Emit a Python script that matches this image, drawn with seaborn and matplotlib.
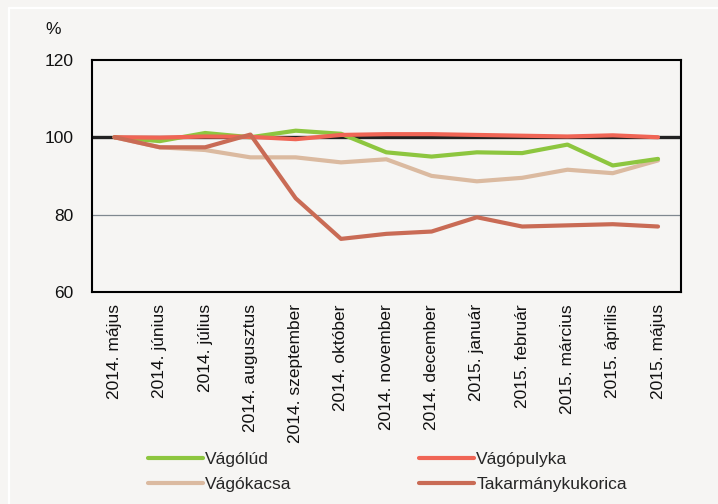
import matplotlib
matplotlib.use("Agg")
import matplotlib.pyplot as plt
import seaborn as sns
import pandas as pd
from matplotlib.lines import Line2D

months = ["2014. május", "2014. június", "2014. július", "2014. augusztus",
          "2014. szeptember", "2014. október", "2014. november", "2014. december",
          "2015. január", "2015. február", "2015. március", "2015. április", "2015. május"]
vagolud = [100, 99.0, 101.1, 100.0, 101.7, 100.9, 96.1, 95.0, 96.1, 95.9, 98.1, 92.7, 94.4]
vagopulyka = [100, 99.9, 100.2, 100.1, 99.5, 100.6, 100.8, 100.8, 100.6, 100.4, 100.2, 100.5, 100.0]
vagokacsa = [100, 97.4, 96.7, 94.8, 94.8, 93.5, 94.3, 90.0, 88.6, 89.5, 91.6, 90.7, 94.0]
kukorica = [100, 97.4, 97.4, 100.7, 84.2, 73.7, 75.0, 75.6, 79.3, 76.9, 77.2, 77.5, 76.9]

series = {"Vágólúd": vagolud, "Vágópulyka": vagopulyka,
          "Vágókacsa": vagokacsa, "Takarmánykukorica": kukorica}
rows = []
for name, vals in series.items():
    for m, v in zip(months, vals):
        rows.append({"month": m, "value": v, "series": name})
df = pd.DataFrame(rows)

palette = {"Vágólúd": "#8dc63f", "Vágópulyka": "#f06555",
           "Vágókacsa": "#dbbaa0", "Takarmánykukorica": "#c96b55"}

sns.set_style("white")
FONT = ["Liberation Sans", "DejaVu Sans"]
plt.rcParams["font.family"] = FONT
BG = "#f6f5f3"
FS = 12.5

fig = plt.figure(figsize=(7.18, 5.04), dpi=100, facecolor=BG)
ax = fig.add_axes([0.128, 0.421, 0.82, 0.46])
ax.set_facecolor(BG)

ax.axhline(80, color="#7f8890", lw=0.9, zorder=1)
ax.axhline(100, color="#222222", lw=2.4, zorder=1)

draw_order = ["Vágókacsa", "Vágólúd", "Vágópulyka", "Takarmánykukorica"]
sns.lineplot(data=df, x="month", y="value", hue="series", palette=palette,
             hue_order=draw_order, sort=False, lw=3.0, ax=ax, legend=False, zorder=3)

ax.set_xlim(-0.5, len(months) - 0.5)
ax.set_ylim(60, 120)
ax.set_yticks([60, 80, 100, 120])
ax.set_xticks(range(len(months)))
ax.set_xticklabels(months, rotation=90)
ax.set_xticks([i - 0.5 for i in range(len(months) + 1)], minor=True)
ax.tick_params(axis="x", which="major", length=0, pad=9, labelsize=FS, colors="#111111")
ax.tick_params(axis="x", which="minor", length=5, width=1.4, direction="out", color="black")
ax.tick_params(axis="y", length=4.5, width=1.4, direction="out", labelsize=FS, pad=8.5,
               colors="#111111")
ax.tick_params(axis="y", color="black")
ax.set_xlabel("")
ax.set_ylabel("")
for s in ax.spines.values():
    s.set_visible(True)
    s.set_color("black")
    s.set_linewidth(1.5)

fig.text(53 / 718, 1 - 30 / 504, "%", fontsize=FS, ha="center", va="center", color="#111111")

# frame lines
fig.add_artist(Line2D([9 / 718, 1], [1 - 8 / 504, 1 - 8 / 504], color="white", lw=1.6,
                      transform=fig.transFigure))
fig.add_artist(Line2D([9 / 718, 9 / 718], [0, 1 - 8 / 504], color="white", lw=1.6,
                      transform=fig.transFigure))

legend_order = ["Vágólúd", "Vágókacsa", "Vágópulyka", "Takarmánykukorica"]
handles = [Line2D([], [], color=palette[n], lw=3.0) for n in legend_order]
fig.legend(handles, legend_order, ncol=2, loc="center left",
           bbox_to_anchor=(132 / 718, 1 - 472 / 504), frameon=False, fontsize=FS,
           handlelength=3.2, handletextpad=0.12, columnspacing=7.3, labelspacing=0.6)

fig.savefig("out.png", dpi=100, facecolor=BG)
